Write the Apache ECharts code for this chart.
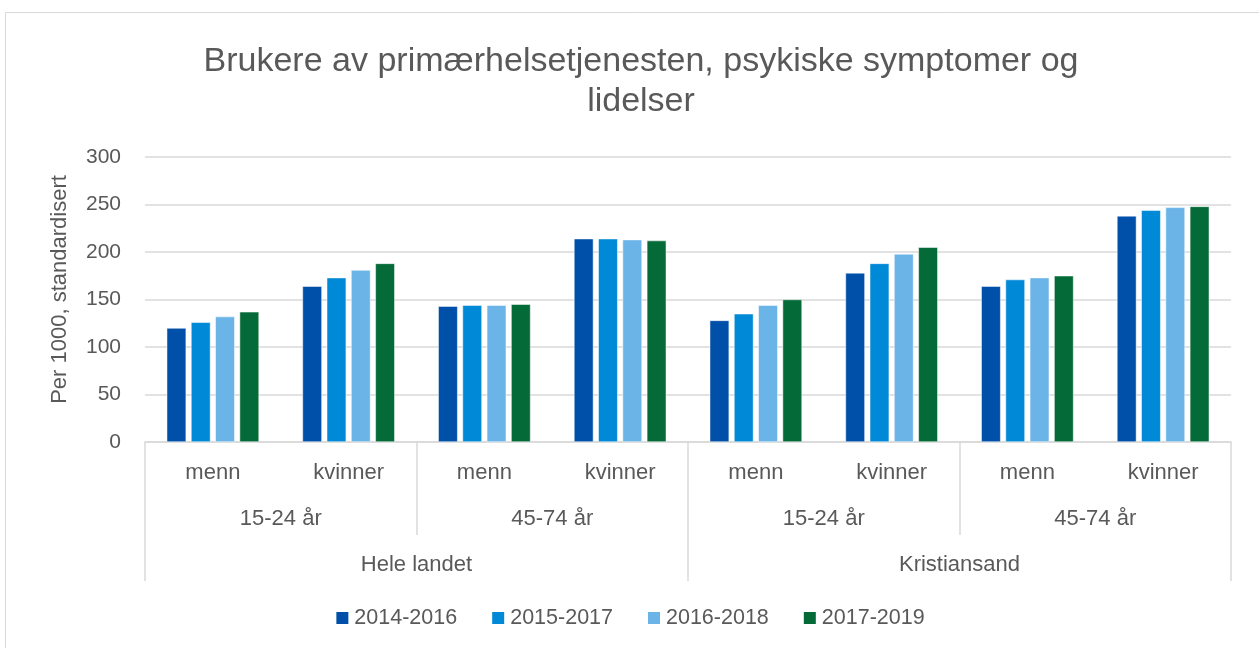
<!DOCTYPE html>
<html>
<head>
<meta charset="utf-8">
<script src="https://cdn.jsdelivr.net/npm/echarts@6/dist/echarts.min.js"></script>
<style>
    html, body { margin: 0; padding: 0; background: #fff; }
    #chart { width: 1259px; height: 648px; }
</style>
</head>
<body>
<div id="chart"></div>
<script>
// kategorier, tre nivåer
var kjonn = ['menn', 'kvinner', 'menn', 'kvinner', 'menn', 'kvinner', 'menn', 'kvinner'];
var alder = ['15-24 år', '45-74 år', '15-24 år', '45-74 år'];
var omrade = ['Hele landet', 'Kristiansand'];

var perioder = ['2014-2016', '2015-2017', '2016-2018', '2017-2019'];
var farger = ['#004fa8', '#0089d6', '#6ab4e8', '#046a38'];

var v2014 = [120, 164, 143, 214, 128, 178, 164, 238];
var v2015 = [126, 173, 144, 214, 135, 188, 171, 244];
var v2016 = [132, 181, 144, 213, 144, 198, 173, 247];
var v2017 = [137, 188, 145, 212, 150, 205, 175, 248];
var verdier = [v2014, v2015, v2016, v2017];

var font = 'Liberation Sans';
var tekst = '#595959';
var linje = '#d9d9d9';

var chart = echarts.init(document.getElementById('chart'));

var series = perioder.map(function (p, i) {
    return {
        name: p,
        type: 'bar',
        xAxisIndex: 0,
        data: verdier[i],
        barGap: '25%',
        barCategoryGap: '32%',
        itemStyle: { color: farger[i], borderColor: '#fff', borderWidth: 0.5 }
    };
});

chart.setOption({
    animation: false,
    textStyle: { fontFamily: font },
    graphic: [{
        type: 'rect',
        shape: { x: 5.5, y: 12.5, width: 1260, height: 650 },
        style: { fill: 'none', stroke: linje, lineWidth: 1 },
        silent: true
    }],
    title: {
        text: 'Brukere av primærhelsetjenesten, psykiske symptomer og\nlidelser',
        left: 636,
        textAlign: 'center',
        top: 37,
        textStyle: { fontFamily: font, fontSize: 34, fontWeight: 'normal', color: tekst, lineHeight: 40 }
    },
    legend: {
        bottom: 14,
        left: 'center',
        itemWidth: 14,
        itemHeight: 14,
        itemGap: 33,
        icon: 'rect',
        textStyle: { fontFamily: font, fontSize: 21.5, color: tekst },
        data: perioder
    },
    grid: { left: 145, right: 28, top: 157, bottom: 206 },
    yAxis: {
        type: 'value',
        min: 0,
        max: 300,
        interval: 50,
        name: 'Per 1000, standardisert',
        nameLocation: 'middle',
        nameGap: 74,
        nameTextStyle: { fontFamily: font, fontSize: 22, color: tekst, padding: [0, 0, 0, 20] },
        axisLabel: { fontFamily: font, fontSize: 21, color: tekst, margin: 24 },
        axisLine: { show: false },
        axisTick: { show: false },
        splitLine: { lineStyle: { color: linje, width: 1.5 } }
    },
    xAxis: [{
        type: 'category',
        data: kjonn,
        position: 'bottom',
        axisLine: { lineStyle: { color: linje, width: 1.5 } },
        axisTick: { show: false },
        axisLabel: { fontFamily: font, fontSize: 22, color: tekst, margin: 20, interval: 0 }
    }, {
        type: 'category',
        data: alder,
        position: 'bottom',
        axisLine: { show: false },
        axisTick: { show: true, length: 93, lineStyle: { color: linje, width: 1.5 } },
        axisLabel: { fontFamily: font, fontSize: 22, color: tekst, margin: 66, interval: 0 }
    }, {
        type: 'category',
        data: omrade,
        position: 'bottom',
        axisLine: { show: false },
        axisTick: { show: true, length: 139, lineStyle: { color: linje, width: 1.5 } },
        axisLabel: { fontFamily: font, fontSize: 22, color: tekst, margin: 112, interval: 0 }
    }],
    series: series
});
</script>
</body>
</html>
